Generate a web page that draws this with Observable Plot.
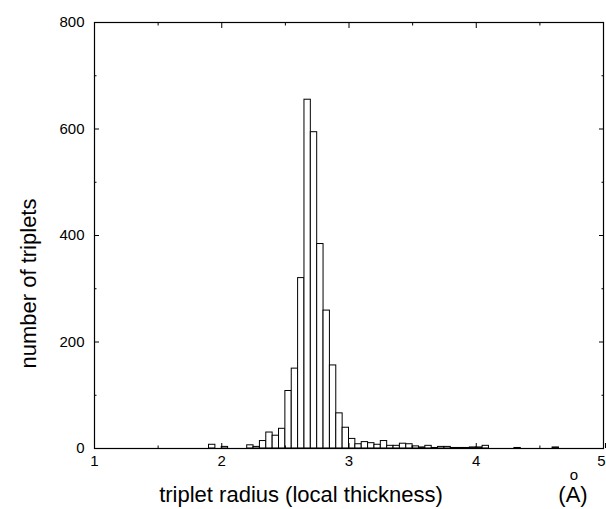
<!DOCTYPE html>
<html><head><meta charset="utf-8">
<script src="https://cdn.jsdelivr.net/npm/d3@7"></script>
<script src="https://cdn.jsdelivr.net/npm/@observablehq/plot@0.6"></script>
<style>body{margin:0;background:#fff} svg{font-family:"Liberation Sans",Arial,sans-serif}</style>
</head><body><div id="chart"></div>
<script>
// histogram bins (left edge, width 0.05) and counts
const binStart = [1.90, 2.00, 2.20, 2.25, 2.30, 2.35, 2.40, 2.45, 2.50, 2.55, 2.60, 2.65, 2.70, 2.75, 2.80, 2.85, 2.90, 2.95, 3.00, 3.05, 3.10, 3.15, 3.20, 3.25, 3.30, 3.35, 3.40, 3.45, 3.50, 3.55, 3.60, 3.65, 3.70, 3.75, 3.80, 3.85, 3.90, 3.95, 4.00, 4.05, 4.30, 4.60];
const counts   = [7, 3, 6, 3, 14, 30, 24, 37, 108, 150, 320, 655, 594, 384, 259, 156, 66, 39, 18, 8, 12, 10, 7, 14, 5, 5, 9, 8, 4, 2, 5, 1, 3, 3, 1, 1, 1, 2, 2, 5, 1, 2];
const binWidth = 0.05;
const xTicks = [1, 2, 3, 4];
const xLastTick = [5];
const xMinorTicks = [1.5, 2.5, 3.5, 4.5];
const yTicks = [0, 200, 400, 600, 800];
const yMinorTicks = [100, 300, 500, 700];
const xLabel = "triplet radius (local thickness)";
const yLabel = "number of triplets";
const unitRing = "o";
const unitLabel = "(A)";

const bins = binStart.map((x, i) => ({x1: x, x2: x + binWidth, count: counts[i]}));
const fmt = d3.format("d");

const chart = Plot.plot({
  width: 606, height: 509,
  marginLeft: 94, marginRight: 3, marginTop: 22, marginBottom: 61,
  style: {fontFamily: '"Liberation Sans", Arial, sans-serif', fontSize: "15px", color: "black", background: "white", overflow: "visible"},
  x: {domain: [1, 5]},
  y: {domain: [0, 800]},
  marks: [
    Plot.rectY(bins, {x1: "x1", x2: "x2", y: "count", fill: "white", stroke: "black", strokeWidth: 1}),
    Plot.frame({stroke: "black", strokeWidth: 1.2}),
    Plot.axisX({ticks: xTicks, anchor: "bottom", tickSize: -5, tickPadding: 12, tickFormat: fmt, label: null, fontSize: 15}),
    Plot.axisX({ticks: xLastTick, anchor: "bottom", tickSize: -5, tickPadding: 12, tickFormat: fmt, label: null, fontSize: 15, textAnchor: "end", dx: 2}),
    Plot.axisX({ticks: xTicks.concat(xLastTick), anchor: "top", tickSize: -5, fill: "none", label: null}),
    Plot.axisX({ticks: xMinorTicks, anchor: "bottom", tickSize: -2.5, fill: "none", label: null}),
    Plot.axisX({ticks: xMinorTicks, anchor: "top", tickSize: -2.5, fill: "none", label: null}),
    Plot.axisY({ticks: yTicks, anchor: "left", tickSize: -5, tickPadding: 15, tickFormat: fmt, label: null, fontSize: 15}),
    Plot.axisY({ticks: yTicks, anchor: "right", tickSize: -5, fill: "none", label: null}),
    Plot.axisY({ticks: yMinorTicks, anchor: "left", tickSize: -2.5, fill: "none", label: null}),
    Plot.axisY({ticks: yMinorTicks, anchor: "right", tickSize: -2.5, fill: "none", label: null}),
    Plot.text([xLabel], {text: d => d, frameAnchor: "bottom", dx: -48, dy: 46, fontSize: 22, lineAnchor: "middle"}),
    Plot.text([unitRing], {text: d => d, frameAnchor: "bottom", dx: 225, dy: 26.5, fontSize: 15, lineAnchor: "middle"}),
    Plot.text([unitLabel], {text: d => d, frameAnchor: "bottom", dx: 224, dy: 46, fontSize: 22, lineAnchor: "middle"}),
    Plot.text([yLabel], {text: d => d, frameAnchor: "left", textAnchor: "middle", dx: -66, dy: 48, fontSize: 22, rotate: -90, lineAnchor: "middle"})
  ]
});
document.getElementById("chart").appendChild(chart);
</script>
</body></html>
